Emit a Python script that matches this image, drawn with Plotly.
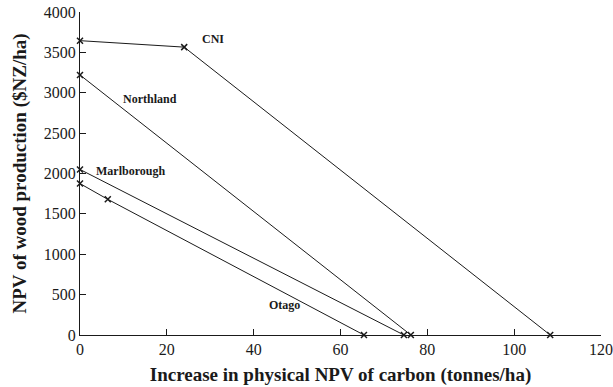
import plotly.graph_objects as go

# Data
regions = ["CNI", "Northland", "Marlborough", "Otago"]
carbon_x = {
    "CNI": [0, 24, 108.3],
    "Northland": [0, 76.2],
    "Marlborough": [0, 74.6],
    "Otago": [0, 6.4, 65.4],
}
wood_npv = {
    "CNI": [3645, 3565, 0],
    "Northland": [3220, 0],
    "Marlborough": [2050, 0],
    "Otago": [1875, 1680, 0],
}
label_x = [30.6, 16.1, 11.7, 47.2]
label_y = [3670, 2920, 2030, 371]

x_ticks = [0, 20, 40, 60, 80, 100, 120]
y_ticks = [0, 500, 1000, 1500, 2000, 2500, 3000, 3500, 4000]

serif = "Liberation Serif"

fig = go.Figure()
for r in regions:
    fig.add_trace(go.Scatter(
        x=carbon_x[r], y=wood_npv[r], mode="lines+markers", name=r,
        line=dict(color="#1a1a1a", width=1),
        marker=dict(symbol="x-thin", size=6, line=dict(color="#1a1a1a", width=1.5)),
        cliponaxis=False, showlegend=False,
    ))

for r, lx, ly in zip(regions, label_x, label_y):
    fig.add_annotation(x=lx, y=ly, text="<b>" + r + "</b>", showarrow=False,
                       font=dict(family=serif, size=12, color="#1a1a1a"))

fig.update_layout(
    width=613, height=387,
    margin=dict(l=80, r=12, t=12, b=52, autoexpand=False),
    paper_bgcolor="white", plot_bgcolor="white",
    font=dict(family=serif, color="#1a1a1a"),
)
fig.update_xaxes(
    range=[0, 120], tickvals=x_ticks, ticks="inside", ticklen=6, tickcolor="#1a1a1a",
    showline=True, linecolor="#1a1a1a", linewidth=1, showgrid=False, zeroline=False,
    automargin=False,
    tickfont=dict(family=serif, size=16, color="#1a1a1a"),
    title=dict(text="<b>Increase in physical NPV of carbon (tonnes/ha)</b>",
               font=dict(family=serif, size=19, color="#1a1a1a"), standoff=10),
)
fig.update_yaxes(
    range=[0, 4000], tickvals=y_ticks, ticks="inside", ticklen=6, tickcolor="#1a1a1a",
    showline=True, linecolor="#1a1a1a", linewidth=1, showgrid=False, zeroline=False,
    automargin=False,
    tickfont=dict(family=serif, size=16, color="#1a1a1a"),
    title=dict(text="<b>NPV of wood production ($NZ/ha)</b>",
               font=dict(family=serif, size=19, color="#1a1a1a"), standoff=12),
)

fig.write_html("out.html")
